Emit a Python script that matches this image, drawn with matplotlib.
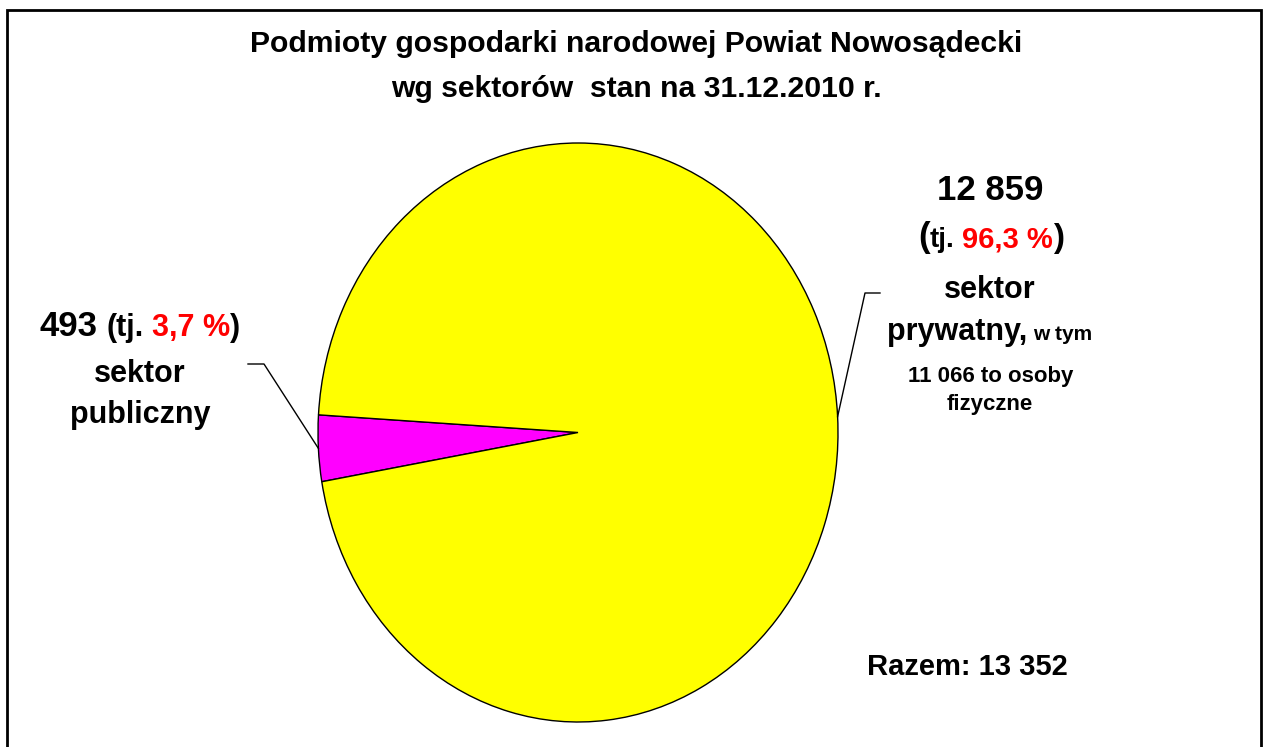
"""Pie chart: Podmioty gospodarki narodowej, Powiat Nowosądecki, 2010."""

import matplotlib

matplotlib.use("Agg")
import matplotlib.pyplot as plt
from matplotlib.patches import Rectangle
from matplotlib.lines import Line2D
import numpy as np

FONT = ["Liberation Sans", "DejaVu Sans"]
W, H = 1263, 747

sectors = ["sektor publiczny", "sektor prywatny"]
counts = [493, 12859]
shares = ["3,7 %", "96,3 %"]
total = "13 352"
osoby_fizyczne = "11 066"
colors = ["#ff00ff", "#ffff00"]

fig = plt.figure(figsize=(W / 100, H / 100), dpi=100)
fig.patch.set_facecolor("white")

# pie axes, ellipse box in pixels: x 318..838, y 143..722 (from top)
ax = fig.add_axes([318 / W, 1 - 722 / H, 520 / W, 579 / H])
wedges, _ = ax.pie(
    counts,
    colors=colors,
    startangle=176.5,
    counterclock=True,
    wedgeprops={"edgecolor": "black", "linewidth": 1.0},
)
ax.set_aspect("auto")
ax.set_xlim(-1.0, 1.0)
ax.set_ylim(-1.0, 1.0)
ax.axis("off")

# outer frame
fig.patches.append(Rectangle((7 / W, -0.05), (1261 - 7) / W, 1 - 10 / H + 0.05,
                             transform=fig.transFigure, fill=False,
                             edgecolor="black", linewidth=2.0, zorder=0))

renderer = fig.canvas.get_renderer()


def text_width(s, size):
    t = fig.text(0, 0, s, fontsize=size, fontweight="bold", family=FONT)
    w = t.get_window_extent(renderer).width
    t.remove()
    return w


def space_width(size):
    return text_width("x x", size) - text_width("xx", size)


def place_line(xc, y_base, pieces):
    """pieces: (text, size, color, space_before)"""
    widths = [text_width(p[0], p[1]) for p in pieces]
    gaps = [space_width(p[1]) if p[3] else 0.0 for p in pieces]
    total_w = sum(widths) + sum(gaps)
    x = xc - total_w / 2
    for (txt, size, color, _), w, g in zip(pieces, widths, gaps):
        x += g
        fig.text(x / W, 1 - y_base / H, txt, fontsize=size, fontweight="bold",
                 color=color, family=FONT, ha="left", va="baseline")
        x += w


# title
place_line(636, 52, [("Podmioty gospodarki narodowej Powiat Nowosądecki", 21.7, "black", False)])
place_line(636, 97, [("wg sektorów  stan na 31.12.2010 r.", 21.7, "black", False)])

# left label - public sector
place_line(140, 336, [(f"{counts[0]}", 25, "black", False),
                      ("(tj.", 22, "black", True),
                      (shares[0], 22, "red", True),
                      (")", 22, "black", False)])
place_line(140, 382, [("sektor", 22, "black", False)])
place_line(140, 423, [("publiczny", 22, "black", False)])

# right label - private sector
place_line(990, 200, [(f"{counts[1] // 1000} {counts[1] % 1000:03d}", 25, "black", False)])
place_line(991, 247, [("(", 25, "black", False),
                      ("tj.", 20, "black", False),
                      (shares[1], 21, "red", True),
                      (")", 24, "black", False)])
place_line(990, 298, [("sektor", 22, "black", False)])
place_line(990, 340, [("prywatny,", 22, "black", False),
                      ("w tym", 15, "black", True)])
place_line(991, 382, [(f"{osoby_fizyczne} to osoby", 16, "black", False)])
place_line(990, 410, [("fizyczne", 16, "black", False)])

place_line(967, 675, [(f"Razem: {total}", 21, "black", False)])


# leader lines from wedge midpoints
def wedge_point(wedge):
    mid = np.deg2rad((wedge.theta1 + wedge.theta2) / 2)
    px, py = ax.transData.transform((np.cos(mid), np.sin(mid)))
    return px / W, py / H


x0, y0 = wedge_point(wedges[0])
fig.lines.append(Line2D([248 / W, 264 / W, x0], [1 - 364 / H, 1 - 364 / H, y0],
                        transform=fig.transFigure, color="black", linewidth=1.0))
x1, y1 = wedge_point(wedges[1])
fig.lines.append(Line2D([880 / W, 865 / W, x1], [1 - 293 / H, 1 - 293 / H, y1],
                        transform=fig.transFigure, color="black", linewidth=1.0))

fig.savefig("out.png", dpi=100)
plt.close(fig)
